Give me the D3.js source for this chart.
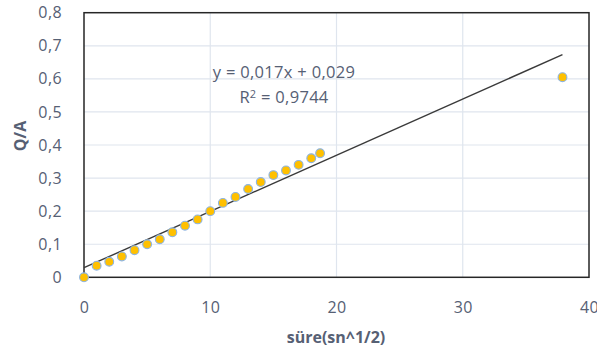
<!DOCTYPE html>
<html>
<head>
<meta charset="utf-8">
<script src="https://cdn.jsdelivr.net/npm/d3@7"></script>
<style>
  body { margin: 0; background: #fff; }
  text { font-family: "Open Sans", sans-serif; fill: #566074; }
</style>
</head>
<body>
<div id="chart"></div>
<script>
// Data set (x = süre^1/2, y = Q/A)
let xs = [0, 1, 2, 3, 4, 5, 6, 7, 8, 9, 10, 11, 12, 13, 14, 15, 16, 17, 18, 18.7, 37.9];
let ys = [0, 0.035, 0.047, 0.063, 0.082, 0.100, 0.115, 0.136, 0.156, 0.175, 0.200,
          0.225, 0.243, 0.267, 0.288, 0.309, 0.323, 0.340, 0.360, 0.375, 0.605];

// Axis ticks
let xTicks = [0, 10, 20, 30, 40];
let yTicks = [0, 0.1, 0.2, 0.3, 0.4, 0.5, 0.6, 0.7, 0.8];

// Trend line (Excel linear fit)
let slope = 0.017;
let intercept = 0.029;
let eqLabel = "y = 0,017x + 0,029";
let r2Value = "0,9744";

let width = 597, height = 351;
let margin = {top: 12.7, right: 8, bottom: 73.7, left: 84};

let svg = d3.select("#chart").append("svg")
  .attr("width", width)
  .attr("height", height);

let x = d3.scaleLinear().domain([0, 40]).range([margin.left, width - margin.right]);
let y = d3.scaleLinear().domain([0, 0.8]).range([height - margin.bottom, margin.top]);

let comma = function (d) { return String(+d.toFixed(2)).replace(".", ","); };

// Gridlines
svg.append("g")
  .selectAll("line")
  .data(yTicks.slice(1, -1))
  .join("line")
  .attr("x1", x(0)).attr("x2", x(40))
  .attr("y1", d => y(d)).attr("y2", d => y(d))
  .attr("stroke", "#dfe5ee").attr("stroke-width", 1.2);

svg.append("g")
  .selectAll("line")
  .data(xTicks.slice(1, -1))
  .join("line")
  .attr("x1", d => x(d)).attr("x2", d => x(d))
  .attr("y1", y(0)).attr("y2", y(0.8))
  .attr("stroke", "#dfe5ee").attr("stroke-width", 1.2);

// Plot border
svg.append("rect")
  .attr("x", x(0)).attr("y", y(0.8))
  .attr("width", x(40) - x(0)).attr("height", y(0) - y(0.8))
  .attr("fill", "none").attr("stroke", "#262626").attr("stroke-width", 1.5);

// Axes (labels only)
let xAxis = svg.append("g")
  .attr("transform", "translate(0," + (y(0) + 21) + ")")
  .call(d3.axisBottom(x).tickValues(xTicks).tickFormat(comma).tickSize(0));
xAxis.select(".domain").remove();

let yAxis = svg.append("g")
  .attr("transform", "translate(" + (x(0) - 19) + ",0)")
  .call(d3.axisLeft(y).tickValues(yTicks).tickFormat(comma).tickSize(0));
yAxis.select(".domain").remove();

svg.selectAll(".tick text")
  .attr("fill", "#566074")
  .attr("font-family", "Open Sans")
  .attr("font-size", 16)
  .attr("letter-spacing", 0.4);

// Trend line
svg.append("line")
  .attr("x1", x(0)).attr("y1", y(intercept))
  .attr("x2", x(d3.max(xs))).attr("y2", y(intercept + slope * d3.max(xs)))
  .attr("stroke", "#3a3a3a").attr("stroke-width", 1.4);

// Points
svg.append("g")
  .selectAll("circle")
  .data(xs)
  .join("circle")
  .attr("cx", d => x(d))
  .attr("cy", (d, i) => y(ys[i]))
  .attr("r", 4.4)
  .attr("fill", "#ffc000")
  .attr("stroke", "#8db4e2")
  .attr("stroke-width", 1.1);

// Equation
svg.append("text")
  .attr("x", 284).attr("y", 78)
  .attr("text-anchor", "middle")
  .attr("font-size", 16.5)
  .attr("letter-spacing", 0.3)
  .text(eqLabel);

let r2 = svg.append("text")
  .attr("x", 284).attr("y", 103)
  .attr("text-anchor", "middle")
  .attr("font-size", 16.5)
  .attr("letter-spacing", 0.3);
r2.append("tspan").text("R");
r2.append("tspan").attr("dy", -5).attr("font-size", 11).text("2");
r2.append("tspan").attr("dy", 5).text(" = " + r2Value);

// Axis titles
svg.append("text")
  .attr("x", 336).attr("y", 343)
  .attr("text-anchor", "middle")
  .attr("font-size", 16).attr("font-weight", "bold")
  .text("süre(sn^1/2)");

svg.append("text")
  .attr("transform", "translate(26,136) rotate(-90)")
  .attr("text-anchor", "middle")
  .attr("font-size", 16).attr("font-weight", "bold")
  .text("Q/A");
</script>
</body>
</html>
